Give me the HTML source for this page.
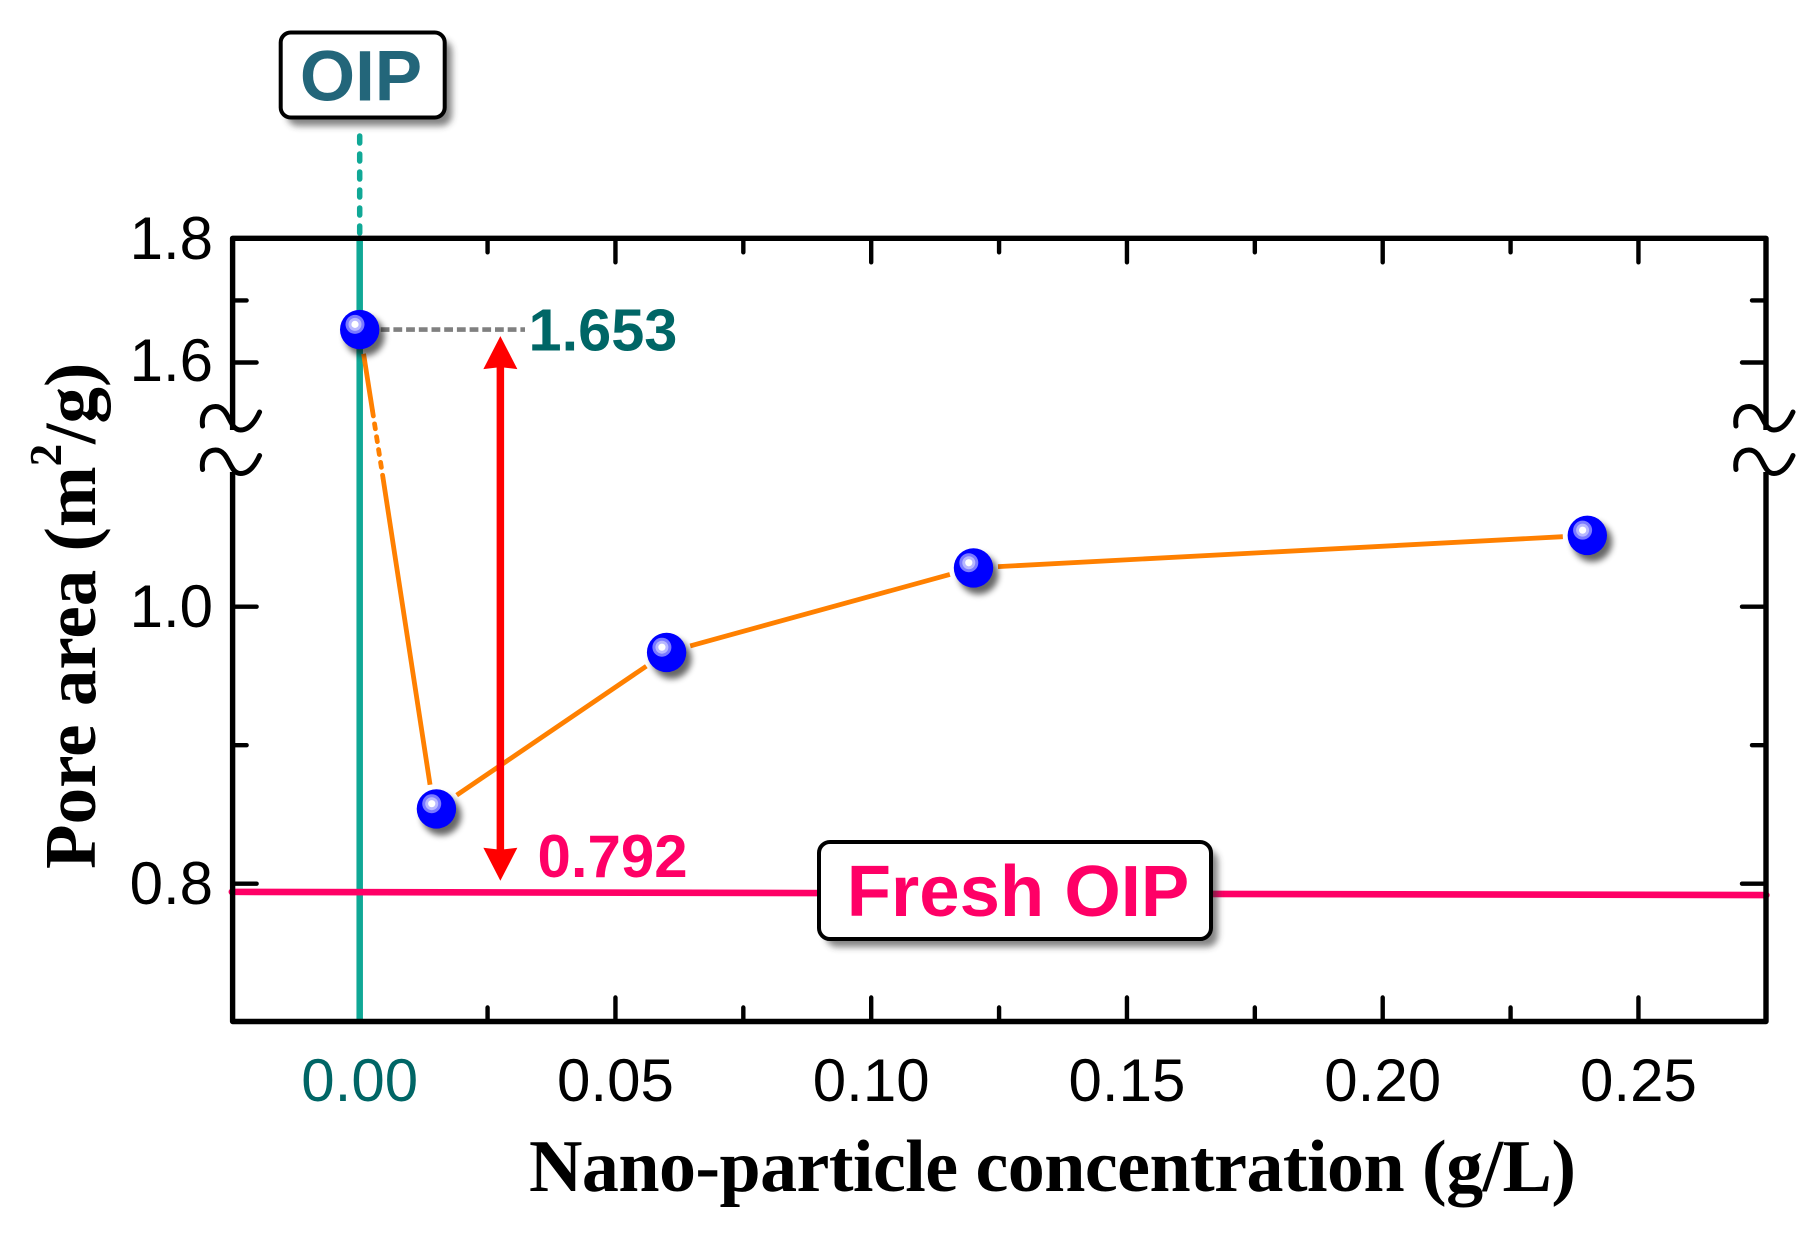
<!DOCTYPE html>
<html lang="en">
<head>
<meta charset="utf-8">
<title>Pore area vs nano-particle concentration</title>
<style>
html,body{margin:0;padding:0;background:#fff;}
svg{display:block;}
.sans{font-family:"Liberation Sans",Arial,sans-serif;}
.serif{font-family:"Liberation Serif","Times New Roman",serif;font-weight:bold;}
</style>
</head>
<body>
<svg id="chart" xmlns="http://www.w3.org/2000/svg" width="1817" height="1233" viewBox="0 0 1817 1233">
  <defs>
    <filter id="soft-point" x="-50%" y="-50%" width="200%" height="200%"><feGaussianBlur stdDeviation="3.2"/></filter>
    <filter id="soft-box" x="-20%" y="-30%" width="140%" height="160%"><feGaussianBlur stdDeviation="3.5"/></filter>
  </defs>
  <rect width="1817" height="1233" fill="#ffffff"/>
  <g id="reference-lines"></g>
  <g id="frame"></g>
  <g id="ticks"></g>
  <g id="tick-labels"></g>
  <g id="series"></g>
  <g id="annotations"></g>
  <g id="points"></g>

  <g>
    <rect x="287" y="40" width="165" height="86" rx="11" fill="#333" opacity="0.6" filter="url(#soft-box)"/>
    <rect x="280.7" y="32.5" width="164" height="85" rx="10" fill="#fff" stroke="#000" stroke-width="4"/>
    <text class="sans" x="361" y="100.5" text-anchor="middle" font-size="71" font-weight="bold" fill="#23667a">OIP</text>
  </g>
  <g>
    <rect x="826" y="850" width="392" height="97" rx="11" fill="#333" opacity="0.6" filter="url(#soft-box)"/>
    <rect x="819" y="842" width="392" height="97" rx="11" fill="#fff" stroke="#000" stroke-width="4"/>
    <text class="sans" x="1018" y="916" text-anchor="middle" font-size="72.5" font-weight="bold" fill="#ff0066">Fresh OIP</text>
  </g>

  <text class="serif" transform="translate(95,869) rotate(-90)" font-size="73" fill="#000" xml:space="preserve">Pore area (m<tspan font-size="45" dy="-34">2</tspan><tspan dy="34">/g)</tspan></text>
  <text class="serif" x="529" y="1191" font-size="74" fill="#000" textLength="1047" lengthAdjust="spacing">Nano-particle concentration (g/L)</text>
</svg>

<script>
// ---- Chart data ----
const concentration = [0, 0.015, 0.06, 0.12, 0.24];
const poreArea = [1.653, 0.854, 0.967, 1.028, 1.0515];
const xMajorTicks = ['0.00', '0.05', '0.10', '0.15', '0.20', '0.25'];
const xMinorTicks = [0.025, 0.075, 0.125, 0.175, 0.225];
const yMajorTicks = ['1.8', '1.6', '1.0', '0.8'];
const yMinorTicks = [1.7, 0.9];
const freshLineX = [-0.025, 0.275];
const freshLineY = [0.7941, 0.7918];
const freshValue = 0.792;
const referenceX = 0;
const arrowX = 0.0275;

// ---- Plot geometry ----
const LEFT = 232.6, RIGHT = 1766, TOP = 238.3, BOTTOM = 1021.5;
const BREAK_A = 430, BREAK_B = 472;
const X0 = 359.7, X_UNIT = 5115;
const LOWER_Y1 = 606.7, LOWER_UNIT = 1385;
const UPPER_Y16 = 362.5, UPPER_UNIT = 621;

function xScale(v) { return X0 + v * X_UNIT; }
function yScale(v) {
  if (v >= 1.6) return UPPER_Y16 - (v - 1.6) * UPPER_UNIT;
  return LOWER_Y1 - (v - 1.0) * LOWER_UNIT;
}

const NS = 'http://www.w3.org/2000/svg';
function make(tag, attrs, parent) {
  const node = document.createElementNS(NS, tag);
  for (const key in attrs) node.setAttribute(key, attrs[key]);
  parent.appendChild(node);
  return node;
}
const refGroup = document.getElementById('reference-lines');
const frameGroup = document.getElementById('frame');
const tickGroup = document.getElementById('ticks');
const labelGroup = document.getElementById('tick-labels');
const seriesGroup = document.getElementById('series');
const annotationGroup = document.getElementById('annotations');
const pointGroup = document.getElementById('points');

// ---- Reference lines ----
const tealDash = make('line', {x1: xScale(referenceX), x2: xScale(referenceX), y1: 136, y2: TOP, stroke: '#10a896', 'stroke-width': 5.5, 'stroke-dasharray': '7 11', 'stroke-linecap': 'round'}, refGroup);


const tealSolid = make('line', {x1: xScale(referenceX), x2: xScale(referenceX), y1: TOP, y2: BOTTOM, stroke: '#10a896', 'stroke-width': 6.5}, refGroup);



// ---- Frame ----
const frameLine = make('path', {d: `M${LEFT} ${BREAK_A}V${TOP}H${RIGHT}V${BREAK_A}M${LEFT} ${BREAK_B}V${BOTTOM}H${RIGHT}V${BREAK_B}`, fill: 'none', stroke: '#000', 'stroke-width': 5.4, 'stroke-linejoin': 'round'}, frameGroup);



[LEFT, RIGHT].forEach(function (ax) {
  [0, 43.5].forEach(function (dy) {
    const sq = make('path', {d: `M${ax - 30} ${426 + dy}C${ax - 32} ${412 + dy} ${ax - 24} ${406.5 + dy} ${ax - 17} ${406.5 + dy}C${ax - 3} ${406.5 + dy} ${ax - 4} ${430 + dy} ${ax + 8} ${430 + dy}C${ax + 16} ${430 + dy} ${ax + 22} ${423 + dy} ${ax + 27} ${412 + dy}`, fill: 'none', stroke: '#000', 'stroke-width': 5, 'stroke-linecap': 'round'}, frameGroup);
    
    
  });
});

// ---- Ticks and tick labels ----
const MAJOR = 24, MINOR = 14;
function xTick(v, len) {
  const x = xScale(v);
  [[BOTTOM, BOTTOM - len], [TOP, TOP + len]].forEach(function (ends) {
    const t = make('line', {x1: x, x2: x, y1: ends[0], y2: ends[1], stroke: '#000', 'stroke-width': 4.4, 'stroke-linecap': 'round'}, tickGroup);
    
    
  });
}
function yTick(v, len) {
  const y = yScale(v);
  [[LEFT, LEFT + len], [RIGHT, RIGHT - len]].forEach(function (ends) {
    const t = make('line', {x1: ends[0], x2: ends[1], y1: y, y2: y, stroke: '#000', 'stroke-width': 4.4, 'stroke-linecap': 'round'}, tickGroup);
    
    
  });
}
xMajorTicks.forEach(function (label) {
  const v = parseFloat(label);
  if (v !== referenceX) xTick(v, MAJOR);
  const t = make('text', {x: xScale(v), y: 1101, 'text-anchor': 'middle', 'font-size': 60, fill: v === referenceX ? '#006666' : '#000', class: 'sans'}, labelGroup);
  
  
  t.textContent = label;
});
xMinorTicks.forEach(function (v) { xTick(v, MINOR); });
yMajorTicks.forEach(function (label) {
  const v = parseFloat(label);
  yTick(v, MAJOR);
  const t = make('text', {x: 213, y: yScale(v) + (v === 1.6 ? 18.5 : 20.5), 'text-anchor': 'end', 'font-size': 60, fill: '#000', class: 'sans'}, labelGroup);
  
  
  t.textContent = label;
});
yMinorTicks.forEach(function (v) { yTick(v, MINOR); });

// ---- Fresh OIP baseline ----
const freshLine = make('line', {x1: xScale(freshLineX[0]), x2: xScale(freshLineX[1]), y1: yScale(freshLineY[0]), y2: yScale(freshLineY[1]), stroke: '#ff0066', 'stroke-width': 6.6, 'stroke-linecap': 'round'}, refGroup);



// ---- Series connecting lines (gap around every marker) ----
const GAP = 24.5;
const SOLID = {stroke: '#ff8000', 'stroke-width': 4.8, fill: 'none'};
function seg(x1, y1, x2, y2, extra) {
  const attrs = Object.assign({x1: x1, y1: y1, x2: x2, y2: y2}, SOLID, extra || {});
  return make('line', attrs, seriesGroup);
}
concentration.slice(1).forEach(function (c, i) {
  const ax = xScale(concentration[i]), ay = yScale(poreArea[i]);
  const bx = xScale(c), by = yScale(poreArea[i + 1]);
  const d = Math.hypot(bx - ax, by - ay);
  const ux = (bx - ax) / d, uy = (by - ay) / d;
  const sx = ax + ux * GAP, sy = ay + uy * GAP, ex = bx - ux * GAP, ey = by - uy * GAP;
  if (ay < BREAK_A - 20 && by > BREAK_B + 6) {
    const DASH_A = 411, DASH_B = 478;
    const xAt = function (y) { return sx + (y - sy) * (ex - sx) / (ey - sy) - 1.5 * (y - sy) / (ey - sy); };
    const s1 = seg(sx, sy, xAt(DASH_A), DASH_A);
    
    
    const s2 = seg(xAt(DASH_A), DASH_A, xAt(DASH_B), DASH_B, {'stroke-dasharray': '5 8', 'stroke-linecap': 'round'});
    
    
    const s3 = seg(xAt(DASH_B), DASH_B, ex - 2.5, ey);
    
    
  } else {
    const s = seg(sx, sy, ex, ey);
    
    
  }
});

// ---- Annotations ----
const topY = yScale(poreArea[0]);
const lowY = yScale(freshValue);
const leader = make('line', {x1: xScale(concentration[0]) + 21, x2: 525, y1: topY, y2: topY, stroke: '#808080', 'stroke-width': 4.6, 'stroke-dasharray': '8.8 3.9'}, annotationGroup);


const peakLabel = make('text', {x: 528.5, y: topY + 21, 'font-size': 59.5, 'font-weight': 'bold', fill: '#006666', class: 'sans'}, annotationGroup);


peakLabel.textContent = poreArea[0].toFixed(3);
const freshLabel = make('text', {x: 537.5, y: lowY - 18, 'font-size': 60, 'font-weight': 'bold', fill: '#ff0066', class: 'sans'}, annotationGroup);


freshLabel.textContent = freshValue.toFixed(3);

const ax0 = xScale(arrowX);
const tip1 = topY + 6.5, tip2 = lowY - 14;
const shaft = make('line', {x1: ax0, x2: ax0, y1: tip1 + 30, y2: tip2 - 30, stroke: '#ff0000', 'stroke-width': 7.5}, annotationGroup);


const headUp = make('polygon', {points: `${ax0},${tip1} ${ax0 + 17},${tip1 + 33} ${ax0},${tip1 + 31} ${ax0 - 17},${tip1 + 33}`, fill: '#ff0000'}, annotationGroup);


const headDown = make('polygon', {points: `${ax0},${tip2} ${ax0 + 17},${tip2 - 33} ${ax0},${tip2 - 31} ${ax0 - 17},${tip2 - 33}`, fill: '#ff0000'}, annotationGroup);



// ---- Data points ----
concentration.forEach(function (c, i) {
  const cx = xScale(c), cy = yScale(poreArea[i]);
  const shadow = make('circle', {cx: cx + 5, cy: cy + 6.5, r: 20, fill: '#000', opacity: 0.6, filter: 'url(#soft-point)'}, pointGroup);
  
  
  const ball = make('circle', {cx: cx, cy: cy, r: 19.7, fill: '#0000ff'}, pointGroup);
  
  
  const glowA = make('circle', {cx: cx - 4.7, cy: cy - 5.2, r: 9.5, fill: '#7a7aff'}, pointGroup);
  
  
  const glowB = make('circle', {cx: cx - 4.7, cy: cy - 5.2, r: 6.5, fill: '#b8b8ff'}, pointGroup);
  
  
  const glowC = make('circle', {cx: cx - 4.7, cy: cy - 5.2, r: 3.6, fill: '#ffffff'}, pointGroup);
  
  
});
</script>
</body>
</html>
